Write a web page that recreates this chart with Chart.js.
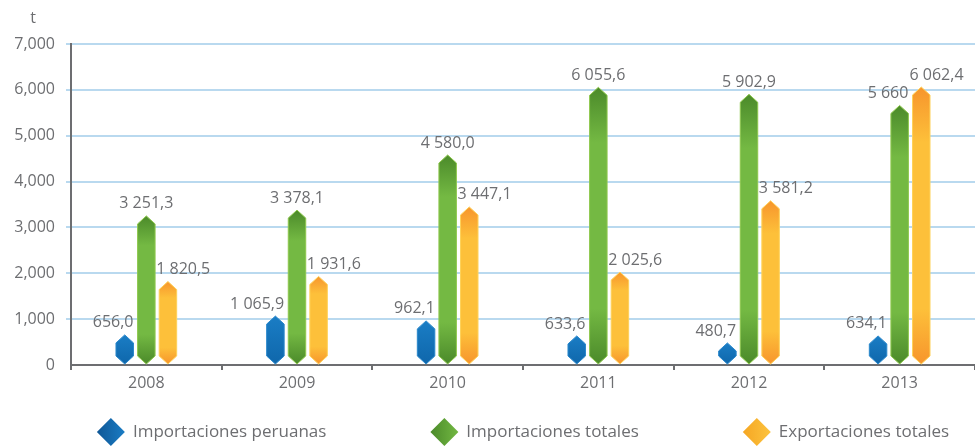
<!DOCTYPE html>
<html>
<head>
<meta charset="utf-8">
<script src="https://cdn.jsdelivr.net/npm/chart.js@4.4.0/dist/chart.umd.min.js"></script>
<style>
    html, body { margin: 0; padding: 0; background: #fff; }
</style>
</head>
<body>
<canvas id="chart" width="975" height="446"></canvas>
<script>
// --- Data ---
const YEARS = ["2008", "2009", "2010", "2011", "2012", "2013"];

const IMPORT_PERU  = [656.0, 1065.9, 962.1, 633.6, 480.7, 634.1];
const IMPORT_TOTAL = [3251.3, 3378.1, 4580.0, 6055.6, 5902.9, 5660];
const EXPORT_TOTAL = [1820.5, 1931.6, 3447.1, 2025.6, 3581.2, 6062.4];

// value labels as printed on the chart
const TEXT_PERU  = ["656,0", "1 065,9", "962,1", "633,6", "480,7", "634,1"];
const TEXT_TOTAL = ["3 251,3", "3 378,1", "4 580,0", "6 055,6", "5 902,9", "5 660"];
const TEXT_EXPORT = ["1 820,5", "1 931,6", "3 447,1", "2 025,6", "3 581,2", "6 062,4"];

const Y_MAX = 7000;
const Y_STEP = 1000;
const UNIT = "t";

const TEXT_COLOR = "#6d6e71";
const FONT = "'Open Sans', 'DejaVu Sans', sans-serif";

Chart.defaults.font.family = FONT;
Chart.defaults.font.size = 16;
Chart.defaults.color = TEXT_COLOR;

// where each value label sits relative to its bar
const ALIGN_PERU   = ["right", "right", "right", "right", "right", "right"];
const ALIGN_TOTAL  = ["center", "center", "center", "center", "center", "right"];
const ALIGN_EXPORT = ["left", "left", "left", "left", "left", "left"];


// --- Plugin: hexagonal gradient bars, value labels, legend, unit ---
const shapedBars = {
    id: "shapedBars",
    beforeDatasetDraw(chart, args) {
        const ctx = chart.ctx;
        const ds = chart.data.datasets[args.index];
        ctx.save();
        args.meta.data.forEach((bar) => {
            const { x, y, base, width } = bar.getProps(["x", "y", "base", "width"], true);
            const half = width / 2;
            const tip = Math.min(8, (base - y) / 2);
            const grad = ctx.createLinearGradient(0, y, 0, base);
            ds.stops.forEach(([p, c]) => grad.addColorStop(p, c));
            ctx.beginPath();
            ctx.moveTo(x, y);
            ctx.lineTo(x + half, y + tip);
            ctx.lineTo(x + half, base - tip);
            ctx.lineTo(x, base);
            ctx.lineTo(x - half, base - tip);
            ctx.lineTo(x - half, y + tip);
            ctx.closePath();
            ctx.fillStyle = grad;
            ctx.fill();
            ctx.lineWidth = 1;
            ctx.strokeStyle = ds.edgeColor;
            ctx.stroke();
        });
        ctx.restore();
        return false;
    },
    afterDatasetsDraw(chart) {
        const ctx = chart.ctx;
        ctx.save();
        ctx.font = "16px " + FONT;
        ctx.fillStyle = TEXT_COLOR;
        ctx.textBaseline = "middle";
        chart.data.datasets.forEach((ds, i) => {
            chart.getDatasetMeta(i).data.forEach((bar, j) => {
                const { x, y, width } = bar.getProps(["x", "y", "width"], true);
                const align = ds.labelAlign[j];
                let tx = x;
                if (align === "right") tx = x + width / 2;
                if (align === "left") tx = x - width / 2 - 3;
                ctx.textAlign = align;
                ctx.fillText(ds.valueText[j], tx, y - 12);
            });
        });
        ctx.restore();
    },
    afterDraw(chart) {
        const ctx = chart.ctx;
        const area = chart.chartArea;
        ctx.save();
        ctx.font = "16px " + FONT;
        ctx.fillStyle = TEXT_COLOR;
        ctx.textBaseline = "middle";
        ctx.textAlign = "center";
        ctx.fillText(UNIT, 33, 18);

        // legend
        ctx.font = "17px " + FONT;
        const r = 14, textGap = 22, itemGap = 104;
        const items = chart.data.datasets.map((ds) => ({
            ds, w: ctx.measureText(ds.label).width,
        }));
        const total = items.reduce((s, it) => s + r + textGap + it.w, 0) + itemGap * (items.length - 1);
        let x = (area.left + area.right) / 2 - total / 2;
        const y = 432;
        ctx.textAlign = "left";
        items.forEach((it) => {
            const cx = x + r;
            const grad = ctx.createLinearGradient(cx - r, 0, cx + r, 0);
            grad.addColorStop(0, it.ds.legendColors[0]);
            grad.addColorStop(1, it.ds.legendColors[1]);
            ctx.beginPath();
            ctx.moveTo(cx, y - r);
            ctx.lineTo(cx + r, y);
            ctx.lineTo(cx, y + r);
            ctx.lineTo(cx - r, y);
            ctx.closePath();
            ctx.fillStyle = grad;
            ctx.fill();
            ctx.fillStyle = TEXT_COLOR;
            ctx.fillText(it.ds.label, cx + textGap, y);
            x += r + textGap + it.w + itemGap;
        });
        ctx.restore();
    },
};


new Chart(document.getElementById("chart").getContext("2d"), {
    type: "bar",
    data: {
        labels: YEARS,
        datasets: [
            {
                label: "Importaciones peruanas",
                data: IMPORT_PERU,
                valueText: TEXT_PERU,
                labelAlign: ALIGN_PERU,
                backgroundColor: "#1474bb",
                stops: [[0, "#1a7dc5"], [1, "#0f67ab"]],
                edgeColor: "#2a88cc",
                legendColors: ["#0f5796", "#1a7cc4"],
            },
            {
                label: "Importaciones totales",
                data: IMPORT_TOTAL,
                valueText: TEXT_TOTAL,
                labelAlign: ALIGN_TOTAL,
                backgroundColor: "#74b943",
                stops: [[0, "#4b8a2a"], [0.2, "#74b943"], [0.8, "#74b943"], [1, "#4b8a2a"]],
                edgeColor: "#8fc84e",
                legendColors: ["#4b8a2a", "#72b842"],
            },
            {
                label: "Exportaciones totales",
                data: EXPORT_TOTAL,
                valueText: TEXT_EXPORT,
                labelAlign: ALIGN_EXPORT,
                backgroundColor: "#fdc03a",
                stops: [[0, "#f7952c"], [0.2, "#fdc03a"], [0.8, "#fdc03a"], [1, "#f7952c"]],
                edgeColor: "#fed25a",
                legendColors: ["#f5a623", "#fcc33e"],
            },
        ],
    },
    options: {
        responsive: false,
        animation: false,
        devicePixelRatio: 1,
        categoryPercentage: 0.43,
        barPercentage: 0.81,
        layout: { padding: { top: 44, right: 0, bottom: 0, left: 0 } },
        plugins: {
            legend: { display: false },
            tooltip: { enabled: false },
        },
        scales: {
            x: {
                offset: true,
                grid: {
                    offset: true,
                    drawOnChartArea: false,
                    drawTicks: true,
                    tickLength: 5,
                    color: TEXT_COLOR,
                    lineWidth: 2,
                },
                border: { color: TEXT_COLOR, width: 2 },
                ticks: { padding: 4, font: { size: 16 } },
                afterFit(scale) { scale.height = 81; },
            },
            y: {
                min: 0,
                max: Y_MAX,
                ticks: {
                    stepSize: Y_STEP,
                    padding: 11,
                    font: { size: 16 },
                    callback: (v) => v.toLocaleString("en-US"),
                },
                grid: {
                    color: (c) => (c.tick && c.tick.value === 0 ? "rgba(0,0,0,0)" : "#b9d9ef"),
                    lineWidth: 2,
                    tickLength: 5,
                },
                border: { color: TEXT_COLOR, width: 2 },
                afterFit(scale) { scale.width = 71; },
            },
        },
    },
    plugins: [shapedBars],
});
</script>
</body>
</html>
